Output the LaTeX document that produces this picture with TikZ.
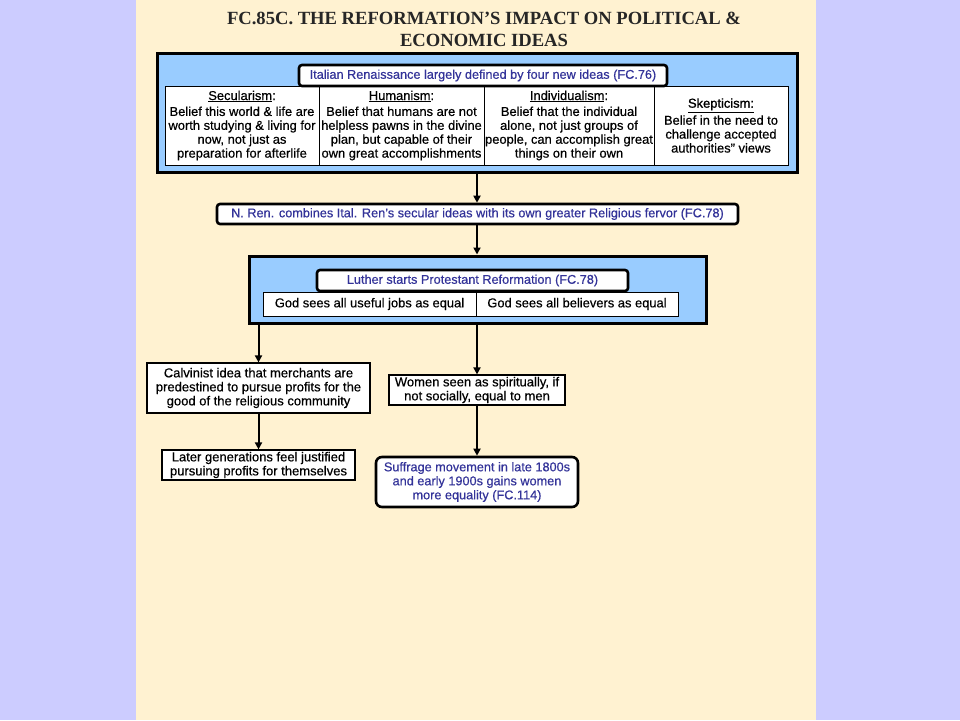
\documentclass[tikz,border=0pt]{standalone}
\usepackage{fontspec}
\setmainfont{Liberation Sans}[FakeBold=0.5]
\newfontfamily\heavier{Liberation Sans}[FakeBold=1.2]
\newfontfamily\titlefont{Liberation Serif}
\usetikzlibrary{arrows.meta}
\definecolor{lav}{HTML}{CCCCFF}
\definecolor{cream}{HTML}{FFF2D1}
\definecolor{skyb}{HTML}{99CCFF}
\definecolor{navy}{HTML}{333399}
\tikzset{
  bigbox/.style={draw=black, line width=3pt, fill=skyb, inner sep=0pt},
  lbl/.style={draw=black, line width=2.6pt, fill=white, rounded corners=3pt, inner sep=0pt, text=navy, font=\fontsize{12.7}{14}\selectfont, align=center},
  cell/.style={draw=black, line width=0.8pt, fill=white, inner sep=0pt, font=\fontsize{12.9}{13.9}\selectfont, align=center},
  plain/.style={draw=black, line width=1.2pt, fill=white, inner sep=0pt, font=\fontsize{13}{14}\selectfont, align=center},
  arr/.style={draw=black, line width=2pt, -{Triangle[length=7pt,width=7pt]}},
}
\begin{document}
\begin{tikzpicture}[x=1pt,y=-1pt]
\useasboundingbox (0,0) rectangle (960,720);
\fill[lav] (0,0) rectangle (960,720);
\fill[cream] (136,0) rectangle (816,720);
\node[font=\titlefont\fontsize{18.6}{22}\selectfont\bfseries, align=center, text=black!85] (title) at (484,29) {FC.85C. THE REFORMATION’S IMPACT ON POLITICAL \&\\ECONOMIC IDEAS};

\node[bigbox, minimum width=640, minimum height=119] (top) at (477,112.5) {};
\node[cell, minimum width=154, minimum height=79] (sec) at (242,125.5) {\underline{Secularism}:\\[2pt]Belief this world \& life are\\worth studying \& living for\\now, not just as\\preparation for afterlife};
\node[cell, minimum width=165, minimum height=79] (hum) at (401.5,125.5) {\underline{Humanism}:\\[2pt]Belief that humans are not\\helpless pawns in the divine\\plan, but capable of their\\own great accomplishments};
\node[cell, minimum width=170, minimum height=79] (ind) at (569,125.5) {\underline{Individualism}:\\[2pt]Belief that the individual\\alone, not just groups of\\people, can accomplish great\\things on their own};
\node[cell, minimum width=134, minimum height=79] (skep) at (721,125.5) {{\heavier\underline{Skepticism:}}\\[2pt]Belief in the need to\\challenge accepted\\authorities” views};
\node[lbl, minimum width=368, minimum height=21] (ital) at (483,75.5) {Italian Renaissance largely defined by four new ideas (FC.76)};

\node[lbl, minimum width=521, minimum height=20] (nren) at (477.5,214) {N. Ren. combines Ital. Ren’s secular ideas with its own greater Religious  fervor (FC.78)};

\node[bigbox, minimum width=457, minimum height=67] (lbox) at (477.5,289.5) {};
\node[lbl, minimum width=311, minimum height=21] (luth) at (472.5,280.5) {Luther  starts Protestant Reformation (FC.78)};
\node[cell, minimum width=213, minimum height=24] (jobs) at (369.5,304) {God sees all useful jobs as equal};
\node[cell, minimum width=202, minimum height=24] (bel) at (577,304) {God sees all believers as equal};

\node[plain, minimum width=223, minimum height=50] (calv) at (258.5,388) {Calvinist idea that merchants are\\predestined to pursue profits for the\\good of the religious community};
\node[plain, minimum width=193, minimum height=30] (later) at (258.5,465) {Later generations feel justified\\pursuing profits for themselves};
\node[plain, minimum width=176, minimum height=30] (women) at (477,390) {Women seen as spiritually, if\\not socially, equal to men};
\node[lbl, minimum width=202, minimum height=50, rounded corners=6pt] (suff) at (477,482) {Suffrage movement in late 1800s\\and early 1900s gains women\\more equality (FC.114)};

\draw[arr] (top.south) -- (nren.north -| top.south);
\draw[arr] (nren.south -| top.south) -- (lbox.north -| top.south);
\draw[arr] (calv.north |- lbox.south) -- (calv.north);
\draw[arr] (women.north |- lbox.south) -- (women.north);
\draw[arr] (calv.south) -- (later.north);
\draw[arr] (women.south) -- (suff.north);
\end{tikzpicture}
\end{document}
